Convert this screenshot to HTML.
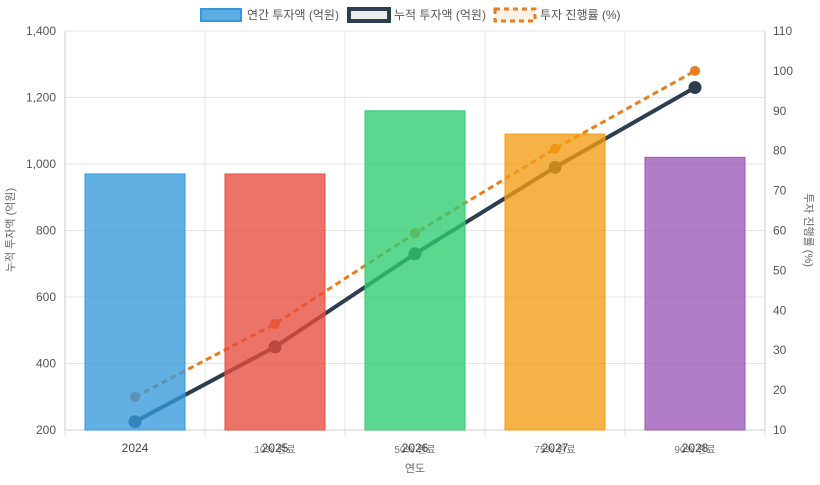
<!DOCTYPE html>
<html><head><meta charset="utf-8"><style>
body{margin:0;background:#fff;}
svg text{font-family:"Liberation Sans","Noto Sans CJK KR",sans-serif;}
</style></head><body>
<svg id="c" width="820" height="480"></svg>
<script>
const years=['2024','2025','2026','2027','2028'];
const subLabels=['','10% 완료','50% 완료','75% 완료','90% 완료'];
const annual=[970,970,1160,1090,1020];
const cumulative=[225,450,730,990,1230];
const progress=[18.3,36.6,59.3,80.5,100];
const leftTicks=[200,400,600,800,1000,1200,1400];
const rightTicks=[10,20,30,40,50,60,70,80,90,100,110];
const barColors=['#3498db','#e74c3c','#2ecc71','#f39c12','#9b59b6'];
const svg=document.getElementById('c');const NS='http://www.w3.org/2000/svg';
function mk(t,a,p){const e=document.createElementNS(NS,t);for(const k in a)e.setAttribute(k,a[k]);(p||svg).appendChild(e);return e;}
const L=65,R=765,T=31,B=430;
const yL=v=>B-(v-200)/1200*(B-T);
const yR=v=>B-(v-10)/100*(B-T);
const step=(R-L)/years.length;
const xC=i=>L+step*(i+0.5);
const fmt=v=>v.toLocaleString('en-US');
// grid
leftTicks.forEach(v=>{const g=mk('line',{x1:L,x2:R,y1:yL(v),y2:yL(v),stroke:'#e5e5e5'});
const t=mk('text',{x:L-9,y:yL(v)+4,'text-anchor':'end','font-size':12,fill:'#555'});t.textContent=fmt(v);});
rightTicks.forEach(v=>{const t=mk('text',{x:R+8,y:yR(v)+4,'font-size':12,fill:'#555'});t.textContent=v;});
for(let i=0;i<=years.length;i++){const x=L+step*i;const g=mk('line',{x1:x,x2:x,y1:T,y2:B+7,stroke:'#e5e5e5'});}
mk('line',{x1:L,x2:L,y1:T,y2:B,stroke:'#ccc'});mk('line',{x1:R,x2:R,y1:T,y2:B,stroke:'#ccc'});mk('line',{x1:L,x2:R,y1:B,y2:B,stroke:'#ccc'});
// lines
function line(vals,fy,col,w,dash,r,name){const pts=vals.map((v,i)=>xC(i)+','+fy(v)).join(' ');
const p=mk('polyline',{points:pts,fill:'none',stroke:col,'stroke-width':w,'stroke-dasharray':dash});
vals.forEach((v,i)=>{const c=mk('circle',{cx:xC(i),cy:fy(v),r:r,fill:col});});}
line(cumulative,yL,'#2c3e50',4,'none',6.5,'cumulative');
line(progress,yR,'#e67e22',3,'6,4',5,'progress');
// bars on top
annual.forEach((v,i)=>{const b=mk('rect',{x:xC(i)-50,y:yL(v),width:100,height:B-yL(v),fill:barColors[i],'fill-opacity':0.78,stroke:barColors[i],'stroke-width':1});});
// x labels
years.forEach((y,i)=>{if(subLabels[i]){const s=mk('text',{x:xC(i),y:453,'text-anchor':'middle','font-size':10,fill:'#777'});s.textContent=subLabels[i];}
const t=mk('text',{x:xC(i),y:452,'text-anchor':'middle','font-size':12,fill:'#444'});t.textContent=y;});
const xt=mk('text',{x:415,y:472,'text-anchor':'middle','font-size':11,fill:'#666'});xt.textContent='연도';
const yt=mk('text',{transform:'translate(14,230) rotate(-90)','text-anchor':'middle','font-size':11,fill:'#666'});yt.textContent='누적 투자액 (억원)';
const yt2=mk('text',{transform:'translate(805,230) rotate(90)','text-anchor':'middle','font-size':11,fill:'#666'});yt2.textContent='투자 진행률 (%)';
// legend
const lg=[['연간 투자액 (억원)',201,()=>mk('rect',{x:201,y:9,width:40,height:12,fill:'#5dade2',stroke:'#3498db','stroke-width':2})],
['누적 투자액 (억원)',348,()=>mk('rect',{x:349,y:9,width:40,height:12,fill:'#ececec',stroke:'#2c3e50','stroke-width':4})],
['투자 진행률 (%)',494,()=>mk('rect',{x:495,y:9,width:40,height:12,fill:'#fdf1e6',stroke:'#e67e22','stroke-width':3,'stroke-dasharray':'5,4'})]];
lg.forEach(l=>{const r=l[2]();
const t=mk('text',{x:l[1]+46,y:19,'font-size':12,fill:'#555'});t.textContent=l[0];});
</script>
</body></html>
